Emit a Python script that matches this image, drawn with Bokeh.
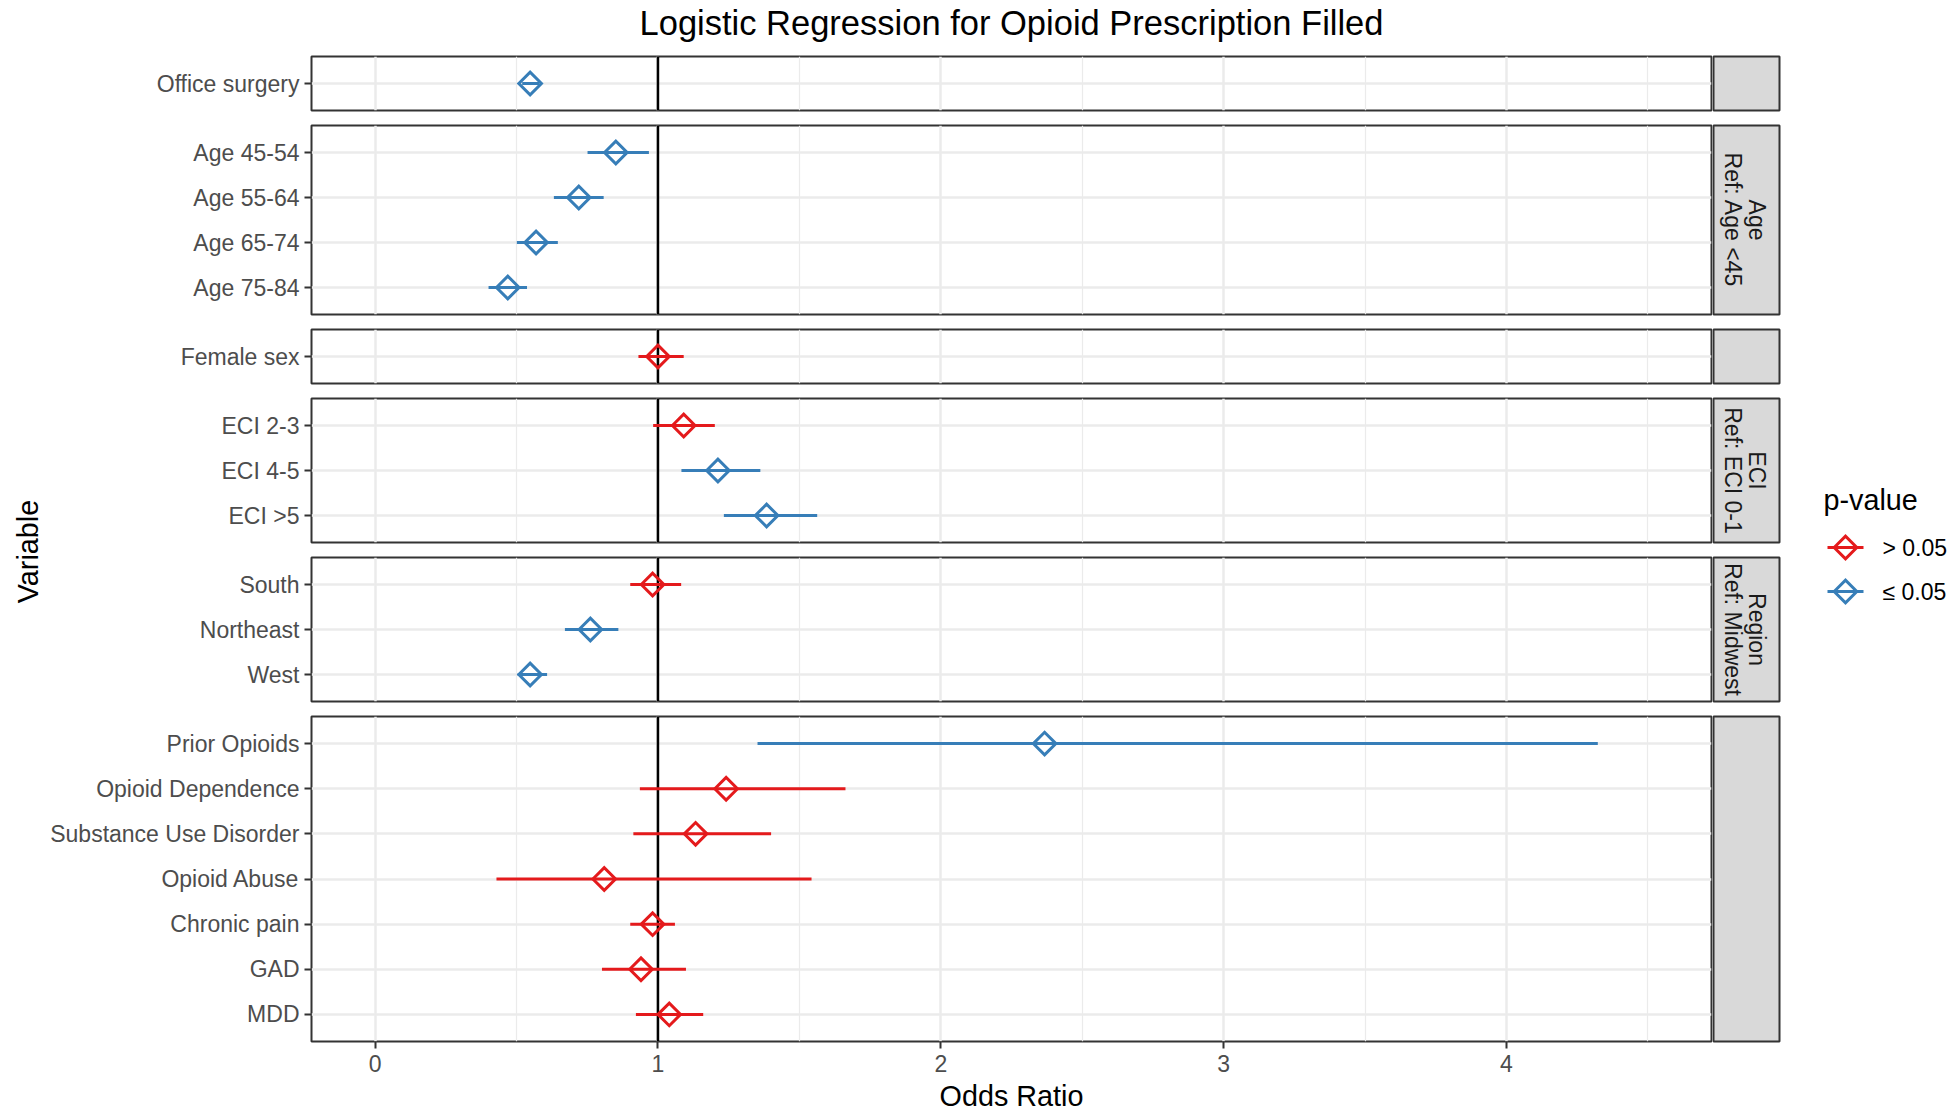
import math
from bokeh.plotting import figure
from bokeh.models import Range1d, FactorRange, FixedTicker, Span, Label, ColumnDataSource
from bokeh.layouts import row, column
from bokeh.embed import file_html
from bokeh.resources import INLINE

# ---------------- data ----------------
TITLE = "Logistic Regression for Opioid Prescription Filled"
X_TITLE = "Odds Ratio"
Y_TITLE = "Variable"
LEGEND_TITLE = "p-value"
LEGEND_LABELS = ["> 0.05", "≤ 0.05"]

variables = ["Office surgery",
             "Age 45-54", "Age 55-64", "Age 65-74", "Age 75-84",
             "Female sex",
             "ECI 2-3", "ECI 4-5", "ECI >5",
             "South", "Northeast", "West",
             "Prior Opioids", "Opioid Dependence", "Substance Use Disorder",
             "Opioid Abuse", "Chronic pain", "GAD", "MDD"]
groups = ["Office",
          "Age", "Age", "Age", "Age",
          "Sex",
          "ECI", "ECI", "ECI",
          "Region", "Region", "Region",
          "Other", "Other", "Other", "Other", "Other", "Other", "Other"]
group_order = ["Office", "Age", "Sex", "ECI", "Region", "Other"]
strip_labels = {"Office": [], "Age": ["Age", "Ref: Age <45"], "Sex": [],
                "ECI": ["ECI", "Ref: ECI 0-1"], "Region": ["Region", "Ref: Midwest"],
                "Other": []}
odds_ratio = [0.548,
              0.851, 0.720, 0.569, 0.469,
              1.000,
              1.091, 1.212, 1.384,
              0.981, 0.761, 0.548,
              2.367, 1.241, 1.133, 0.810, 0.981, 0.940, 1.040]
ci_low = [0.520,
          0.751, 0.632, 0.501, 0.401,
          0.931,
          0.983, 1.083, 1.233,
          0.902, 0.671, 0.504,
          1.352, 0.936, 0.913, 0.429, 0.902, 0.802, 0.922]
ci_high = [0.580,
           0.968, 0.808, 0.646, 0.537,
           1.091,
           1.201, 1.362, 1.563,
           1.082, 0.860, 0.608,
           4.323, 1.663, 1.400, 1.543, 1.060, 1.099, 1.160]
p_class = ["≤ 0.05",
           "≤ 0.05", "≤ 0.05", "≤ 0.05", "≤ 0.05",
           "> 0.05",
           "> 0.05", "≤ 0.05", "≤ 0.05",
           "> 0.05", "≤ 0.05", "≤ 0.05",
           "≤ 0.05", "> 0.05", "> 0.05", "> 0.05", "> 0.05", "> 0.05", "> 0.05"]
x_ticks = [0, 1, 2, 3, 4]
x_minor = [0.5, 1.5, 2.5, 3.5, 4.5]
x_limits = (0.0, 4.5)
reference_or = 1.0

COLORS = {"> 0.05": "#E41A1C", "≤ 0.05": "#377EB8"}

# ---------------- style / layout ----------------
FONT = "Liberation Sans"
TICK_PX = "23px"
AXT_PX = "28.75px"
TITLE_PX = "34.5px"
GRID = "#EBEBEB"
DARK = "#333333"

ROW_PX = 45.1
PAD = 2
LEFT_W = 46
AXIS_BORDER = 265
FRAME_W = 1400
STRIP_W = 68
LEG_W = 170
GAP = 11
TITLE_H = 54
XAX_BORDER = 35
XLAB_H = 35
TOTAL_W = LEFT_W + AXIS_BORDER + FRAME_W + PAD + STRIP_W + LEG_W
MARKER_SIZE = 16
Y_PAD = 0.1               # ggplot discrete expansion (0.6 units around outer centres)


def blank_fig(w, h):
    f = figure(width=w, height=h, x_range=Range1d(0, w), y_range=Range1d(0, h),
               x_axis_location=None, y_axis_location=None,
               output_backend="svg", toolbar_location=None,
               min_border_left=0, min_border_right=0, min_border_top=0, min_border_bottom=0)
    f.grid.grid_line_color = None
    f.outline_line_color = None
    f.background_fill_color = "white"
    f.border_fill_color = "white"
    return f


span_x = x_limits[1] - x_limits[0]
x_range = Range1d(x_limits[0] - 0.05 * span_x, x_limits[1] + 0.05 * span_x)

panel_rows = []
fig_heights = []
for gi, g in enumerate(group_order):
    idx = [i for i, gg in enumerate(groups) if gg == g]
    names = [variables[i] for i in idx]
    n = len(names)
    fh = int(round((n - 1 + 1.2) * ROW_PX))
    bottom = gi == len(group_order) - 1
    bb = XAX_BORDER if bottom else PAD
    fig_h = fh + PAD + bb
    fig_heights.append(fig_h)
    src = ColumnDataSource(dict(
        var=names,
        orr=[odds_ratio[i] for i in idx],
        lo=[ci_low[i] for i in idx],
        hi=[ci_high[i] for i in idx],
        color=[COLORS[p_class[i]] for i in idx],
    ))
    p = figure(width=AXIS_BORDER + FRAME_W + PAD, height=fig_h,
               x_range=x_range,
               y_range=FactorRange(factors=names[::-1], range_padding=Y_PAD,
                                   range_padding_units="absolute"),
               x_axis_location="below" if bottom else None,
               output_backend="svg", toolbar_location=None,
               min_border_left=AXIS_BORDER, min_border_right=PAD,
               min_border_top=PAD, min_border_bottom=bb)
    p.background_fill_color = "white"
    p.border_fill_color = "white"
    p.outline_line_color = DARK
    p.outline_line_width = 2

    p.xgrid.ticker = FixedTicker(ticks=x_ticks, minor_ticks=x_minor)
    p.xgrid.grid_line_color = GRID
    p.xgrid.grid_line_width = 2.5
    p.xgrid.minor_grid_line_color = GRID
    p.xgrid.minor_grid_line_width = 1.2
    p.ygrid.grid_line_color = GRID
    p.ygrid.grid_line_width = 2.5

    ya = p.yaxis[0]
    ya.axis_line_color = None
    ya.major_tick_in = 0
    ya.major_tick_out = 7
    ya.major_tick_line_color = DARK
    ya.major_tick_line_width = 2
    ya.minor_tick_line_color = None
    ya.major_label_text_font = FONT
    ya.major_label_text_font_size = TICK_PX
    ya.major_label_text_color = "#4D4D4D"
    ya.major_label_standoff = 5

    if bottom:
        xa = p.xaxis[0]
        xa.ticker = FixedTicker(ticks=x_ticks)
        xa.axis_line_color = None
        xa.major_tick_in = 0
        xa.major_tick_out = 7
        xa.major_tick_line_color = DARK
        xa.major_tick_line_width = 2
        xa.minor_tick_line_color = None
        xa.major_label_text_font = FONT
        xa.major_label_text_font_size = TICK_PX
        xa.major_label_text_color = "#4D4D4D"
        xa.major_label_standoff = 6

    p.add_layout(Span(location=reference_or, dimension="height", line_color="black",
                      line_width=2.5, level="underlay"))
    p.segment(x0="lo", y0="var", x1="hi", y1="var", source=src,
              line_color="color", line_width=3)
    p.scatter(x="orr", y="var", source=src, marker="square", angle=math.pi / 4,
              size=MARKER_SIZE, fill_color=None, line_color="color", line_width=3,
              line_join="miter")

    # strip (same canvas height and borders as its panel so frames line up)
    s = figure(width=STRIP_W, height=fig_h, x_range=Range1d(0, 1), y_range=Range1d(0, 1),
               x_axis_location=None, y_axis_location=None,
               output_backend="svg", toolbar_location=None,
               min_border_left=0, min_border_right=PAD, min_border_top=PAD,
               min_border_bottom=bb)
    s.grid.grid_line_color = None
    s.background_fill_color = "#D9D9D9"
    s.border_fill_color = "white"
    s.outline_line_color = DARK
    s.outline_line_width = 2
    lines = strip_labels[g]
    offs = [10, -14]
    for li, txt in enumerate(lines):
        s.add_layout(Label(x=0.5, y=0.5, x_offset=offs[li], text=txt, angle=-math.pi / 2,
                           text_align="center", text_baseline="middle",
                           text_font=FONT, text_font_size=TICK_PX, text_color="#1A1A1A"))

    r = row(p, s, spacing=0)
    if bottom:
        xl = blank_fig(AXIS_BORDER + FRAME_W + PAD, XLAB_H)
        xl.add_layout(Label(x=AXIS_BORDER + FRAME_W / 2, y=16, text=X_TITLE,
                            text_align="center", text_baseline="middle",
                            text_font=FONT, text_font_size=AXT_PX, text_color="black"))
        r = column(r, xl, spacing=0)
    panel_rows.append(r)

panels_col = column(*panel_rows, spacing=GAP)
BODY_H = sum(fig_heights) + XLAB_H + GAP * (len(fig_heights) - 1)

# y axis title (page y of its centre measured from the top of the page)
VAR_Y_PAGE = 551
vf = blank_fig(LEFT_W, BODY_H)
vf.add_layout(Label(x=27.8, y=BODY_H - (VAR_Y_PAGE - TITLE_H),
                    text=Y_TITLE, angle=math.pi / 2,
                    text_align="center", text_baseline="middle",
                    text_font=FONT, text_font_size=AXT_PX, text_color="black"))

# legend
lf = blank_fig(LEG_W, BODY_H)
leg_title_y = BODY_H - (499 - TITLE_H)
key_y = [BODY_H - (547 - TITLE_H), BODY_H - (591 - TITLE_H)]
key_x0, key_x1, key_xc, lab_x = 46, 82, 64, 101
lf.add_layout(Label(x=42, y=leg_title_y, text=LEGEND_TITLE, text_align="left",
                    text_baseline="middle", text_font=FONT, text_font_size=AXT_PX,
                    text_color="black"))
leg_src = ColumnDataSource(dict(
    y=key_y,
    x0=[key_x0] * 2, x1=[key_x1] * 2, xc=[key_xc] * 2,
    color=[COLORS[l] for l in LEGEND_LABELS],
))
lf.segment(x0="x0", y0="y", x1="x1", y1="y", source=leg_src, line_color="color", line_width=3)
lf.scatter(x="xc", y="y", source=leg_src, marker="square", angle=math.pi / 4,
           size=MARKER_SIZE, fill_color=None, line_color="color", line_width=3,
           line_join="miter")
for lab, yy in zip(LEGEND_LABELS, key_y):
    lf.add_layout(Label(x=lab_x, y=yy, text=lab, text_align="left", text_baseline="middle",
                        text_font=FONT, text_font_size=TICK_PX, text_color="black"))

# title
tf = blank_fig(TOTAL_W, TITLE_H)
tf.add_layout(Label(x=LEFT_W + AXIS_BORDER + FRAME_W / 2, y=TITLE_H - 22, text=TITLE,
                    text_align="center", text_baseline="middle",
                    text_font=FONT, text_font_size=TITLE_PX, text_color="black"))

body = row(vf, panels_col, lf, spacing=0)
layout = column(tf, body, spacing=0)

open("out.html", "w").write(file_html(layout, INLINE))
